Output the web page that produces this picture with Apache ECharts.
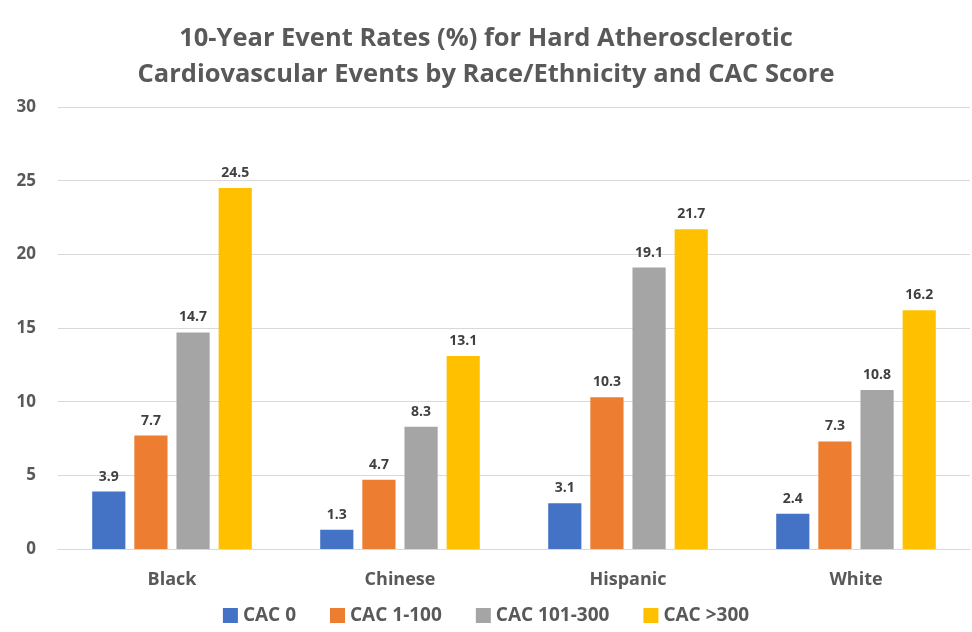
<!DOCTYPE html>
<html>
<head>
<meta charset="utf-8">
<script src="https://cdn.jsdelivr.net/npm/echarts@6/dist/echarts.min.js"></script>
<style>
  html, body { margin: 0; padding: 0; background: #fff; }
  #chart { width: 972px; height: 632px; }
</style>
</head>
<body>
<div id="chart"></div>
<script>
// categories and values
const groups = ["Black", "Chinese", "Hispanic", "White"];
const cac0 = [3.9, 1.3, 3.1, 2.4];
const cac1to100 = [7.7, 4.7, 10.3, 7.3];
const cac101to300 = [14.7, 8.3, 19.1, 10.8];
const cacOver300 = [24.5, 13.1, 21.7, 16.2];
const seriesNames = ["CAC 0", "CAC 1-100", "CAC 101-300", "CAC >300"];
const colors = ["#4472C4", "#ED7D31", "#A5A5A5", "#FFC000"];

const font = "'Open Sans', 'Noto Sans', sans-serif";
const myChart = echarts.init(document.getElementById("chart"));

const values = [cac0, cac1to100, cac101to300, cacOver300];
const series = values.map((data, i) => ({
  name: seriesNames[i],
  type: "bar",
  data: data,
  color: colors[i],
  barGap: "27%",
  barCategoryGap: "30%",
  label: {
    show: true,
    position: "top",
    distance: 8,
    color: "#404040",
    fontFamily: font,
    fontWeight: "bold",
    fontSize: 14
  }
}));

const option = {
  animation: false,
  title: {
    text: "10-Year Event Rates (%) for Hard Atherosclerotic\nCardiovascular Events by Race/Ethnicity and CAC Score",
    left: "center",
    top: 16,
    textStyle: {
      color: "#595959",
      fontFamily: font,
      fontWeight: "bold",
      fontSize: 25.5,
      lineHeight: 36
    }
  },
  legend: {
    bottom: 2,
    left: "center",
    itemWidth: 15,
    itemHeight: 15,
    itemGap: 34,
    icon: "rect",
    textStyle: {
      color: "#595959",
      fontFamily: font,
      fontWeight: "bold",
      fontSize: 19
    }
  },
  grid: {
    left: 58,
    right: 2,
    top: 107,
    bottom: 83,
    containLabel: false
  },
  xAxis: {
    type: "category",
    data: groups,
    axisTick: { show: false },
    axisLine: { lineStyle: { color: "#D9D9D9", width: 1 } },
    axisLabel: {
      color: "#595959",
      fontFamily: font,
      fontWeight: "bold",
      fontSize: 18,
      margin: 22
    }
  },
  yAxis: {
    type: "value",
    min: 0,
    max: 30,
    interval: 5,
    axisLine: { show: false },
    axisTick: { show: false },
    splitLine: { lineStyle: { color: "#D9D9D9", width: 1 } },
    axisLabel: {
      color: "#595959",
      fontFamily: font,
      fontWeight: "bold",
      fontSize: 17,
      margin: 22
    }
  },
  series: series
};

myChart.setOption(option);
</script>
</body>
</html>
